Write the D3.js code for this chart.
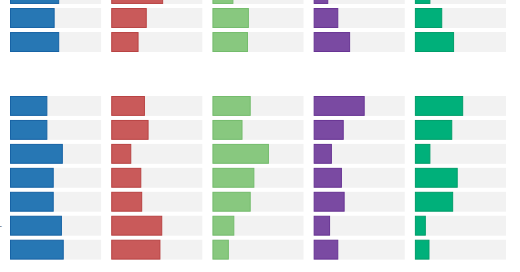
<!DOCTYPE html>
<html lang="en">

<head>
  <meta charset="UTF-8">
  <title>Small multiple bars</title>
  <script src="https://cdn.jsdelivr.net/npm/d3@7.6.1/dist/d3.min.js"></script>
  <style>
    body { margin: 0; background: #fff; }
    svg { display: block; }
  </style>
</head>

<body>
  <div id="box"></div>
  <script>
    const width = 520
    const height = 272

    // series (columns) and their colours
    const series = ['A', 'B', 'C', 'D', 'E']
    const fills = ['#2777b4', '#c95a5a', '#88c87f', '#7a4aa2', '#00b07a']
    const strokes = ['#1763a5', '#b94343', '#74bc6c', '#683494', '#009e6a']

    // top group (partly cut off above), rows top to bottom
    const topRows = ['t1', 't2', 't3']
    const topA = [54, 49, 54]
    const topB = [57, 39, 30]
    const topC = [23, 40, 39]
    const topD = [16, 27, 40]
    const topE = [17, 30, 43]

    // bottom group
    const botRows = ['b1', 'b2', 'b3', 'b4', 'b5', 'b6', 'b7']
    const botA = [41, 41, 58, 48, 48, 57, 59]
    const botB = [37, 41, 22, 33, 34, 56, 54]
    const botC = [42, 33, 62, 46, 42, 24, 18]
    const botD = [56, 33, 20, 31, 34, 18, 27]
    const botE = [53, 41, 17, 47, 42, 12, 16]

    const svg = d3.select('#box').append('svg')
      .attr('width', width)
      .attr('height', height)

    // column positions
    const xCol = d3.scaleBand().domain(series).range([10, 506]).paddingInner(0.1)
    // value -> length inside a column
    const xVal = d3.scaleLinear().domain([0, 100]).range([0, xCol.bandwidth()])

    function drawGroup(rows, cols, yRange) {
      const y = d3.scaleBand().domain(rows).range(yRange).paddingInner(0.17)
      series.forEach((s, i) => {
        const g = svg.append('g').attr('transform', `translate(${xCol(s)},0)`)
        // grey track
        g.selectAll('rect.track').data(rows).join('rect')
          .attr('class', 'track')
          .attr('x', 0)
          .attr('y', d => y(d))
          .attr('width', xCol.bandwidth())
          .attr('height', y.bandwidth())
          .attr('fill', '#f2f2f2')
        // value bars
        g.selectAll('rect.bar').data(cols[i]).join('rect')
          .attr('class', 'bar')
          .attr('x', 0.5)
          .attr('y', (d, j) => y(rows[j]) + 0.5)
          .attr('width', d => xVal(d) - 1)
          .attr('height', y.bandwidth() - 1)
          .attr('fill', fills[i])
          .attr('stroke', strokes[i])
          .attr('stroke-width', 1)
      })
      return y
    }

    drawGroup(topRows, [topA, topB, topC, topD, topE], [-16, 52])
    const yb = drawGroup(botRows, [botA, botB, botC, botD, botE], [96, 259.6])

    // tail of a row label that sits off the left edge
    svg.append('text')
      .attr('x', 2)
      .attr('y', yb('b6') + yb.bandwidth() / 2)
      .attr('dy', '0.35em')
      .attr('text-anchor', 'end')
      .attr('font-family', 'DejaVu Sans')
      .attr('font-size', 10)
      .attr('fill', '#888')
      .text('-')
  </script>
</body>

</html>
